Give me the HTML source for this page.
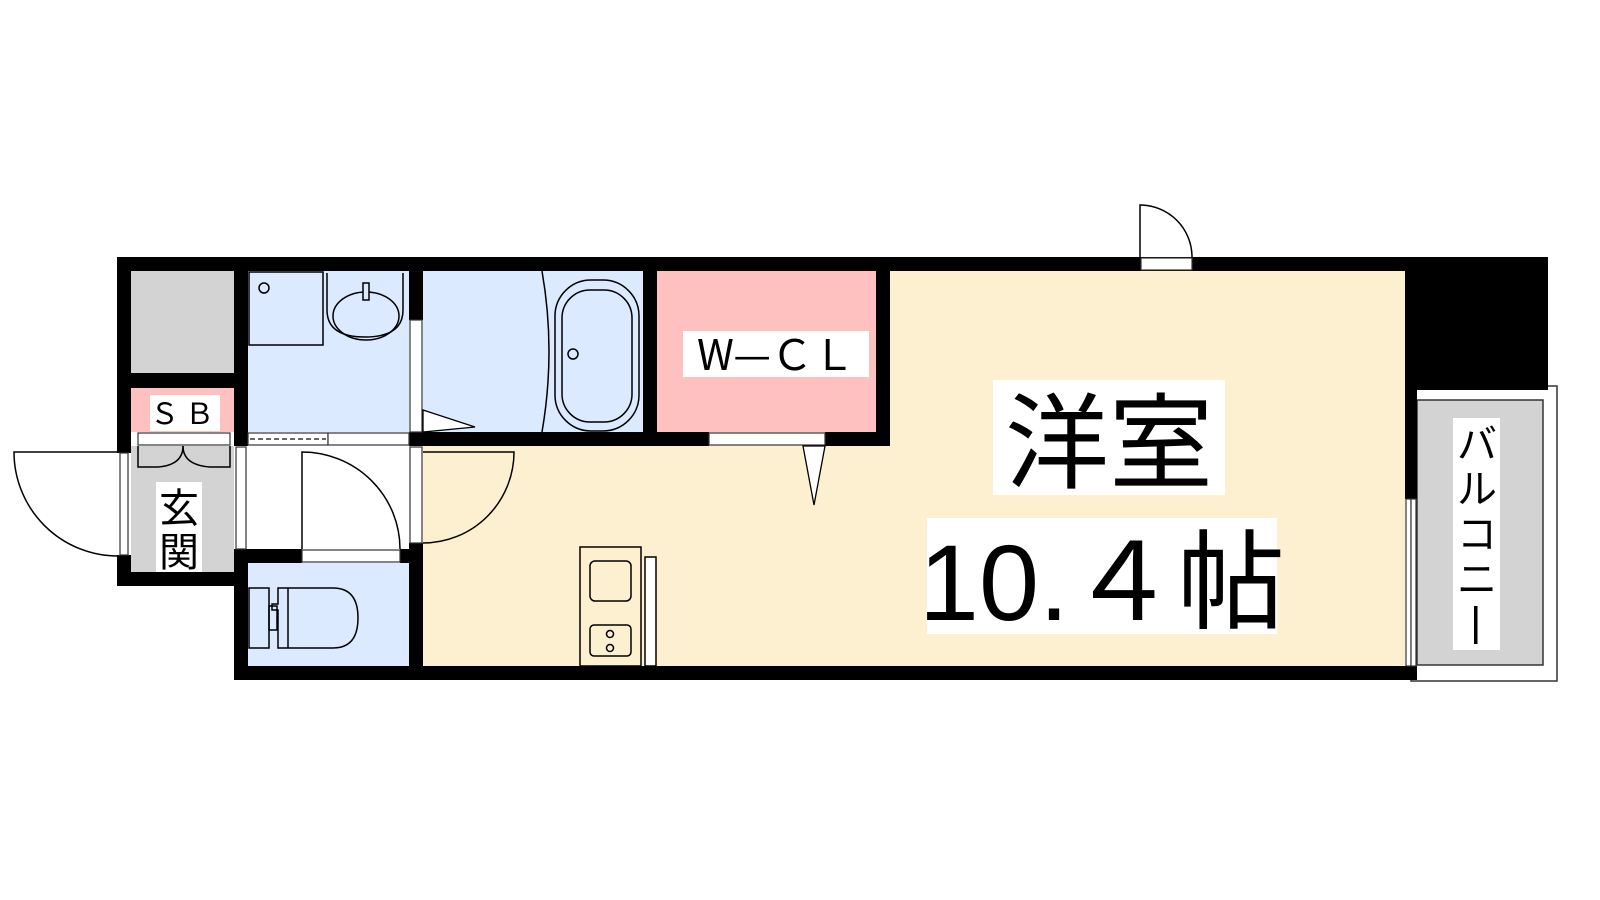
<!DOCTYPE html>
<html><head><meta charset="utf-8"><style>
html,body{margin:0;padding:0;background:#fff}
svg{display:block}
text{font-family:"Liberation Sans","Noto Sans CJK JP",sans-serif;fill:#000}
</style></head><body>
<svg width="1600" height="900" viewBox="0 0 1600 900" xmlns="http://www.w3.org/2000/svg">
<rect width="1600" height="900" fill="#fff"/>
<rect x="423" y="271" width="982" height="395" fill="#fdf0d0"/>
<rect x="131" y="271" width="103" height="102" fill="#d3d3d3"/>
<rect x="131" y="388" width="103" height="44" fill="#ffc0c0"/>
<rect x="131" y="446" width="103" height="126" fill="#d3d3d3"/>
<rect x="248" y="446" width="161" height="103" fill="#fff"/>
<rect x="248" y="271" width="161" height="161" fill="#dbeaff"/>
<rect x="423" y="271" width="220" height="161" fill="#dbeaff"/>
<rect x="657" y="271" width="219" height="161" fill="#ffc0c0"/>
<rect x="248" y="563" width="161" height="103" fill="#dbeaff"/>
<rect x="1411" y="386" width="146" height="295" fill="#fff" stroke="#333" stroke-width="1.5"/>
<rect x="1417" y="400" width="126" height="265" fill="#d3d3d3" stroke="#333" stroke-width="1.5"/>
<g fill="#000">
<rect x="117" y="257" width="1298" height="14"/>
<rect x="1405" y="257" width="143" height="133"/>
<rect x="1405" y="257" width="12" height="242"/>
<rect x="1405" y="666" width="12" height="14"/>
<rect x="117" y="257" width="14" height="196"/>
<rect x="117" y="555" width="14" height="31"/>
<rect x="117" y="572" width="131" height="14"/>
<rect x="131" y="373" width="103" height="15"/>
<rect x="234" y="257" width="14" height="189"/>
<rect x="234" y="549" width="14" height="131"/>
<rect x="234" y="549" width="68" height="14"/>
<rect x="400" y="549" width="23" height="14"/>
<rect x="234" y="666" width="1183" height="14"/>
<rect x="409" y="257" width="14" height="63"/>
<rect x="409" y="432" width="300" height="14"/>
<rect x="825" y="432" width="65" height="14"/>
<rect x="876" y="257" width="14" height="189"/>
<rect x="643" y="257" width="14" height="189"/>
<rect x="409" y="543" width="14" height="137"/>
<rect x="234" y="432" width="14" height="14"/>
</g>
<g fill="#fff" stroke="#333" stroke-width="1.2">
<rect x="138" y="433" width="92" height="12"/>
<rect x="248" y="433" width="80" height="12"/>
<rect x="328" y="433" width="81" height="12"/>
<rect x="410" y="320" width="12" height="112"/>
<rect x="709" y="433" width="116" height="12"/>
<rect x="302" y="550" width="98" height="12"/>
<rect x="120" y="453" width="8" height="102"/>
<rect x="236" y="447" width="10" height="102"/>
<rect x="410" y="447" width="12" height="96"/>
<rect x="1141" y="258" width="51" height="12"/>
<rect x="1406" y="499" width="5" height="167"/>
<rect x="1411" y="499" width="5" height="167"/>
</g>
<line x1="250" y1="439" x2="326" y2="439" stroke="#333" stroke-width="1.5" stroke-dasharray="5,3"/>
<g fill="none" stroke="#000" stroke-width="1.5">
<path d="M118 452 H14 A104 104 0 0 0 118 556"/>
<path d="M302 549 V452 A98 97 0 0 1 400 549"/>
<path d="M423 452 H514 A91 91 0 0 1 423 543"/>
<path d="M1140 257 V205 A52 52 0 0 1 1192 257"/>
<path d="M138 446 V467 H158 Q183 465 183 446"/>
<path d="M230 446 V467 H210 Q183 465 183 446"/>
</g>
<polygon points="423,410 475,427 423,432" fill="#fff" stroke="#000" stroke-width="1.3"/>
<polygon points="803,446 825,446 814,505" fill="#fff" stroke="#000" stroke-width="1.3"/>
<g fill="none" stroke="#000" stroke-width="1.5">
<rect x="249" y="272" width="74" height="73"/>
<circle cx="264" cy="288" r="5"/>
<path d="M327 273 V310 Q327 337 365 337 Q403 337 403 310 V273"/>
<ellipse cx="366" cy="316" rx="33" ry="24"/>
<rect x="363" y="283" width="6" height="17" fill="#dbeaff"/>
<path d="M542 271 Q556 351 542 432"/>
<rect x="555" y="280" width="84" height="151" rx="36"/>
<rect x="562" y="290" width="70" height="132" rx="28"/>
<circle cx="573" cy="354" r="5"/>
<rect x="249" y="588" width="20" height="60"/>
<path d="M278 588 H333 Q358 588 358 618 Q358 648 333 648 H278 V610 H272 V604 H278 Z"/>
<line x1="288" y1="588" x2="288" y2="648"/>
<rect x="269" y="606" width="8" height="24"/>
<rect x="580" y="547" width="61" height="119"/>
<rect x="590" y="561" width="41" height="40" rx="5"/>
<rect x="590" y="625" width="41" height="31" rx="4"/>
<circle cx="610" cy="634" r="3.5"/>
<circle cx="610" cy="648" r="3.5"/>
<rect x="645" y="557" width="11" height="109" fill="#fff"/>
</g>
<rect x="150" y="395" width="70" height="36" fill="#fff"/>
<text x="185" y="424" font-size="29" text-anchor="middle" letter-spacing="6">ＳＢ</text>
<rect x="156" y="482" width="46" height="90" fill="#fff"/>
<text x="179" y="522" font-size="40" text-anchor="middle">玄</text>
<text x="179" y="566" font-size="40" text-anchor="middle">関</text>
<rect x="683" y="331" width="186" height="46" fill="#fff"/>
<text x="776" y="370" font-size="42" text-anchor="middle" style="font-family:'Noto Sans CJK JP',sans-serif">W—ＣＬ</text>
<rect x="993" y="380" width="232" height="115" fill="#fff"/>
<text x="1109" y="480" font-size="104" text-anchor="middle">洋室</text>
<rect x="927" y="518" width="350" height="116" fill="#fff"/>
<text x="1102" y="620" font-size="108" text-anchor="middle">10.４帖</text>
<rect x="1453" y="418" width="47" height="232" fill="#fff"/>
<g font-size="40" text-anchor="middle">
<text x="1477" y="458">バ</text>
<text x="1477" y="503">ル</text>
<text x="1477" y="548">コ</text>
<text x="1477" y="593">ニ</text>
</g>
<rect x="1474" y="606" width="3.5" height="38" fill="#000"/>
</svg>
</body></html>
